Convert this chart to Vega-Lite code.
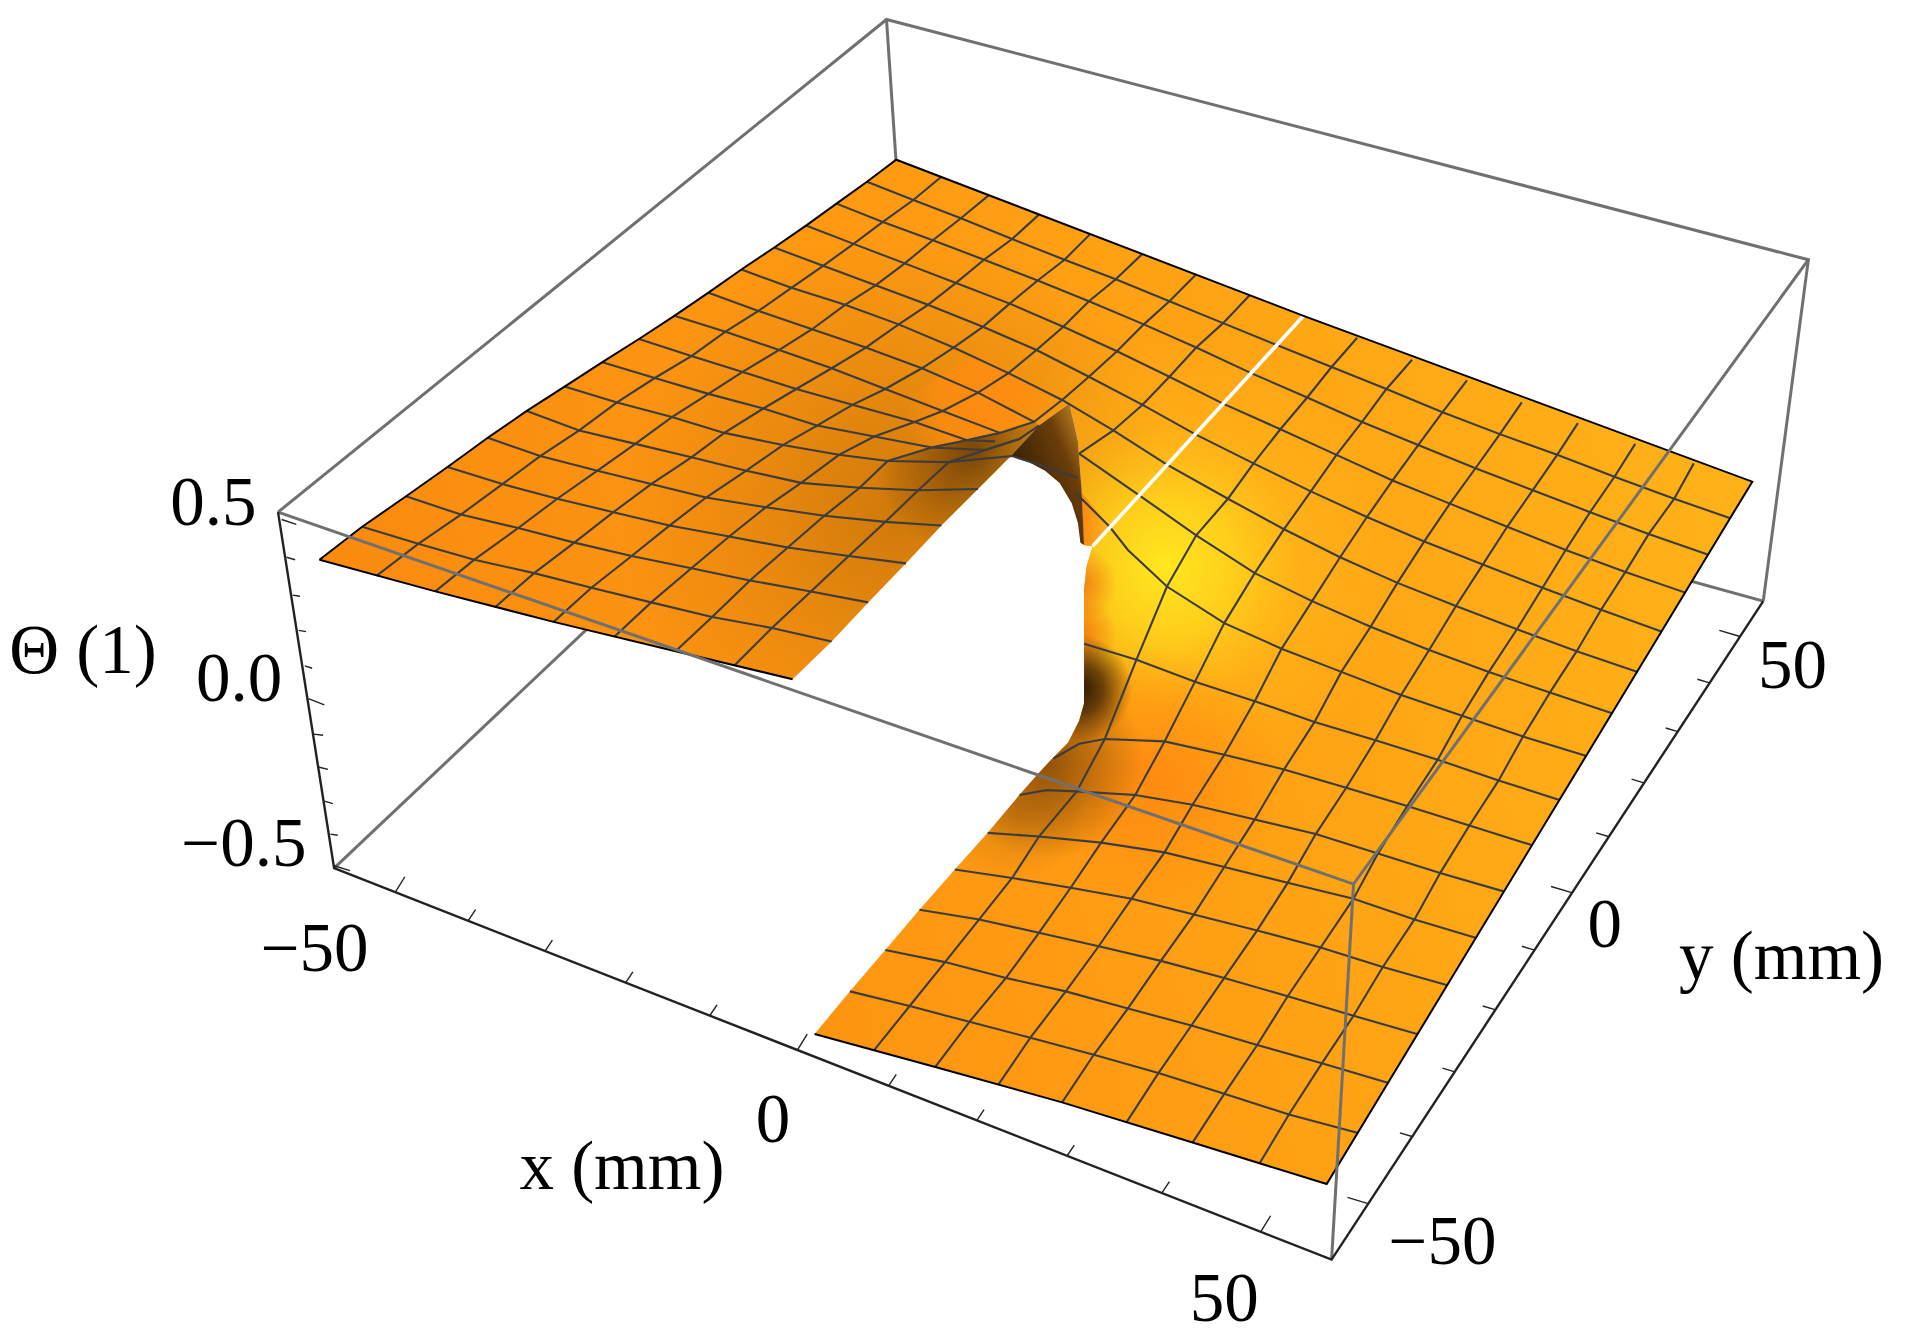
{
  "$schema": "https://vega.github.io/schema/vega-lite/v6.json",
  "width": 1912,
  "height": 1338,
  "padding": 0,
  "autosize": {"type": "none"},
  "background": "white",
  "projection": {"type": "identity", "scale": 1.2194, "translate": [0, 0]},
  "datasets": {
    "surface": [
      {"type": "Feature", "properties": {"part": "surface"}, "geometry": {"type": "Polygon", "coordinates": [[[735,131],[1069,259],[1437,395],[1088,971],[978,937],[924,920],[871,904],[819,889],[767,875],[717,861],[668,848],[697,813],[726,779],[754,746],[783,713],[810,683],[836,652],[851,635],[862,623],[876,609],[885,591],[889,577],[889,543],[889,484],[891,465],[896,448],[889,447],[887,402],[884,362],[877,331],[852,349],[829,374],[802,401],[772,431],[743,462],[712,494],[682,526],[650,557],[602,546],[554,534],[504,522],[454,510],[406,498],[357,485],[309,472],[262,459],[297,432],[333,407],[367,383],[400,359],[432,337],[463,317],[494,297],[524,278],[553,259],[581,240],[608,221],[635,203],[661,185],[686,167],[711,149],[735,131]]]}}
    ],
    "lipShade": [
      {"type": "Feature", "properties": {"part": "lipShade"}, "geometry": {"type": "Polygon", "coordinates": [[[852,349],[848,345],[820,354],[793,360],[764,366],[728,378],[690,400],[655,440],[640,545],[650,557],[682,526],[712,494],[743,462],[772,431],[802,401],[829,374],[852,349]]]}}
    ],
    "lipTop": [
      {"type": "Feature", "properties": {"part": "lip"}, "geometry": {"type": "Polygon", "coordinates": [[[877,331],[871,327],[800,290],[730,335],[728,376],[764,366],[793,360],[820,354],[848,345],[877,331]]]}}
    ],
    "wall": [
      {"type": "Feature", "properties": {"part": "wall"}, "geometry": {"type": "Polygon", "coordinates": [[[877,331],[852,349],[829,374],[844,379],[857,386],[869,396],[879,413],[884,429],[886,445],[889,447],[887,402],[884,362],[877,331]]]}}
    ],
    "sliver": [
      {"type": "Feature", "properties": {"part": "sliver"}, "geometry": {"type": "Polygon", "coordinates": [[[887,404],[910,432],[896,448],[889,447],[887,404]]]}}
    ],
    "mesh": [
      {"type": "Feature", "properties": {"line": "y15"}, "geometry": {"type": "LineString", "coordinates": [[711,149],[749,164],[788,179],[830,196],[873,213],[915,229],[959,247],[1003,265],[1047,283],[1092,301],[1137,319],[1183,338],[1230,356],[1277,373],[1324,391],[1373,409],[1419,425]]}},
      {"type": "Feature", "properties": {"line": "y14"}, "geometry": {"type": "LineString", "coordinates": [[686,167],[724,182],[765,197],[807,213],[851,230],[893,247],[938,266],[981,285],[1026,306],[1072,326],[1117,346],[1163,365],[1210,384],[1257,402],[1304,420],[1352,438],[1401,455]]}},
      {"type": "Feature", "properties": {"line": "y13"}, "geometry": {"type": "LineString", "coordinates": [[661,185],[700,200],[742,216],[784,232],[828,249],[872,268],[916,288],[959,309],[1003,331],[1050,352],[1096,373],[1142,394],[1189,413],[1236,432],[1284,451],[1333,469],[1382,486]]}},
      {"type": "Feature", "properties": {"line": "y12"}, "geometry": {"type": "LineString", "coordinates": [[635,203],[675,218],[718,234],[761,250],[806,268],[850,287],[893,309],[937,332],[980,356],[1028,380],[1075,403],[1121,424],[1168,444],[1216,463],[1265,482],[1313,500],[1363,518]]}},
      {"type": "Feature", "properties": {"line": "y11"}, "geometry": {"type": "LineString", "coordinates": [[608,221],[649,236],[693,250],[737,266],[782,285],[827,306],[871,328],[913,353],[957,381],[1007,409],[1053,434],[1099,457],[1146,478],[1194,497],[1244,516],[1293,534],[1343,551]]}},
      {"type": "Feature", "properties": {"line": "y10a"}, "geometry": {"type": "LineString", "coordinates": [[581,240],[622,255],[666,270],[710,285],[756,302],[802,322],[848,346]]}},
      {"type": "Feature", "properties": {"line": "y10b"}, "geometry": {"type": "LineString", "coordinates": [[885,372],[934,406],[981,439],[1029,470],[1076,493],[1124,514],[1172,533],[1221,551],[1271,568],[1322,585]]}},
      {"type": "Feature", "properties": {"line": "y9a"}, "geometry": {"type": "LineString", "coordinates": [[553,259],[595,272],[639,287],[682,302],[726,319],[773,337],[820,355]]}},
      {"type": "Feature", "properties": {"line": "y9b"}, "geometry": {"type": "LineString", "coordinates": [[882,404],[910,432],[925,451],[957,481],[1004,511],[1051,532],[1100,551],[1149,570],[1199,587],[1249,604],[1301,620]]}},
      {"type": "Feature", "properties": {"line": "y8a"}, "geometry": {"type": "LineString", "coordinates": [[524,278],[567,292],[609,305],[653,319],[699,332],[750,346],[793,361],[816,362]]}},
      {"type": "Feature", "properties": {"line": "y8b"}, "geometry": {"type": "LineString", "coordinates": [[889,528],[932,541],[980,559],[1029,575],[1078,592],[1128,607],[1179,623],[1229,640],[1279,656]]}},
      {"type": "Feature", "properties": {"line": "y7a"}, "geometry": {"type": "LineString", "coordinates": [[494,297],[537,310],[581,323],[626,335],[670,349],[717,358],[764,367],[808,369],[836,360]]}},
      {"type": "Feature", "properties": {"line": "y7b"}, "geometry": {"type": "LineString", "coordinates": [[864,622],[885,610],[906,606],[955,608],[1004,619],[1053,631],[1104,646],[1154,661],[1205,677],[1256,693]]}},
      {"type": "Feature", "properties": {"line": "y6a"}, "geometry": {"type": "LineString", "coordinates": [[463,317],[506,330],[551,342],[594,355],[642,365],[688,373],[728,378],[778,379],[830,374],[855,382],[884,392]]}},
      {"type": "Feature", "properties": {"line": "y6b"}, "geometry": {"type": "LineString", "coordinates": [[836,652],[858,648],[883,649],[931,652],[978,660],[1029,672],[1079,684],[1130,700],[1181,716],[1233,731]]}},
      {"type": "Feature", "properties": {"line": "y5a"}, "geometry": {"type": "LineString", "coordinates": [[432,337],[475,353],[521,364],[567,375],[612,386],[657,396],[705,400],[753,402],[802,401]]}},
      {"type": "Feature", "properties": {"line": "y5b"}, "geometry": {"type": "LineString", "coordinates": [[810,683],[852,686],[903,691],[955,699],[1004,711],[1056,724],[1110,737],[1160,754],[1210,769]]}},
      {"type": "Feature", "properties": {"line": "y4a"}, "geometry": {"type": "LineString", "coordinates": [[400,359],[443,374],[490,386],[534,397],[579,408],[628,416],[676,423],[726,428],[772,431]]}},
      {"type": "Feature", "properties": {"line": "y4b"}, "geometry": {"type": "LineString", "coordinates": [[783,713],[830,720],[878,728],[928,737],[979,750],[1031,763],[1083,777],[1134,793],[1187,808]]}},
      {"type": "Feature", "properties": {"line": "y3a"}, "geometry": {"type": "LineString", "coordinates": [[367,383],[412,397],[457,409],[503,420],[549,431],[598,440],[646,449],[696,456],[743,462]]}},
      {"type": "Feature", "properties": {"line": "y3b"}, "geometry": {"type": "LineString", "coordinates": [[754,746],[803,754],[852,765],[901,776],[952,788],[1004,802],[1056,817],[1110,833],[1162,848]]}},
      {"type": "Feature", "properties": {"line": "y2a"}, "geometry": {"type": "LineString", "coordinates": [[333,407],[378,422],[425,433],[471,445],[518,456],[567,466],[615,476],[665,485],[712,494]]}},
      {"type": "Feature", "properties": {"line": "y2b"}, "geometry": {"type": "LineString", "coordinates": [[726,779],[775,789],[825,802],[874,813],[925,827],[977,841],[1031,857],[1084,872],[1138,888]]}},
      {"type": "Feature", "properties": {"line": "y1a"}, "geometry": {"type": "LineString", "coordinates": [[297,432],[343,446],[389,459],[438,470],[485,482],[534,494],[584,506],[633,515],[682,526]]}},
      {"type": "Feature", "properties": {"line": "y1b"}, "geometry": {"type": "LineString", "coordinates": [[697,813],[746,825],[795,838],[845,851],[897,865],[950,880],[1004,897],[1057,914],[1113,929]]}},
      {"type": "Feature", "properties": {"line": "x1"}, "geometry": {"type": "LineString", "coordinates": [[772,145],[749,164],[724,182],[700,200],[675,218],[649,236],[622,255],[595,272],[567,292],[537,310],[506,330],[475,353],[443,374],[412,397],[378,422],[343,446],[309,472]]}},
      {"type": "Feature", "properties": {"line": "x2"}, "geometry": {"type": "LineString", "coordinates": [[811,160],[788,179],[765,197],[742,216],[718,234],[693,250],[666,270],[639,287],[609,305],[581,323],[551,342],[521,364],[490,386],[457,409],[425,433],[389,459],[357,485]]}},
      {"type": "Feature", "properties": {"line": "x3"}, "geometry": {"type": "LineString", "coordinates": [[852,176],[830,196],[807,213],[784,232],[761,250],[737,266],[710,285],[682,302],[653,319],[626,335],[594,355],[567,375],[534,397],[503,420],[471,445],[438,470],[406,498]]}},
      {"type": "Feature", "properties": {"line": "x4"}, "geometry": {"type": "LineString", "coordinates": [[894,192],[873,213],[851,230],[828,249],[806,268],[782,285],[756,302],[726,319],[699,332],[670,349],[642,365],[612,386],[579,408],[549,431],[518,456],[485,482],[454,510]]}},
      {"type": "Feature", "properties": {"line": "x5"}, "geometry": {"type": "LineString", "coordinates": [[937,208],[915,229],[893,247],[872,268],[850,287],[827,306],[802,322],[773,337],[750,346],[717,358],[688,373],[657,396],[628,416],[598,440],[567,466],[534,494],[504,522]]}},
      {"type": "Feature", "properties": {"line": "x6"}, "geometry": {"type": "LineString", "coordinates": [[981,225],[959,247],[938,266],[916,288],[893,309],[871,328],[848,346],[820,355],[793,361],[764,367],[728,378],[705,400],[676,423],[646,449],[615,476],[584,506],[554,534]]}},
      {"type": "Feature", "properties": {"line": "x7a"}, "geometry": {"type": "LineString", "coordinates": [[1025,242],[1003,265],[981,285],[959,309],[937,332],[913,353],[885,372]]}},
      {"type": "Feature", "properties": {"line": "x7b"}, "geometry": {"type": "LineString", "coordinates": [[602,546],[633,515],[665,485],[696,456],[726,428],[753,402],[778,379],[808,369],[836,360],[852,349]]}},
      {"type": "Feature", "properties": {"line": "x9"}, "geometry": {"type": "LineString", "coordinates": [[1113,277],[1092,301],[1072,326],[1050,352],[1028,380],[1007,409],[981,439],[957,481],[932,541],[906,606],[883,649],[852,686],[830,720],[803,754],[775,789],[746,825],[717,861]]}},
      {"type": "Feature", "properties": {"line": "x10"}, "geometry": {"type": "LineString", "coordinates": [[1158,295],[1137,319],[1117,346],[1096,373],[1075,403],[1053,434],[1029,470],[1004,511],[980,559],[955,608],[931,652],[903,691],[878,728],[852,765],[825,802],[795,838],[767,875]]}},
      {"type": "Feature", "properties": {"line": "x11"}, "geometry": {"type": "LineString", "coordinates": [[1203,312],[1183,338],[1163,365],[1142,394],[1121,424],[1099,457],[1076,493],[1051,532],[1029,575],[1004,619],[978,660],[955,699],[928,737],[901,776],[874,813],[845,851],[819,889]]}},
      {"type": "Feature", "properties": {"line": "x12"}, "geometry": {"type": "LineString", "coordinates": [[1248,330],[1230,356],[1210,384],[1189,413],[1168,444],[1146,478],[1124,514],[1100,551],[1078,592],[1053,631],[1029,672],[1004,711],[979,750],[952,788],[925,827],[897,865],[871,904]]}},
      {"type": "Feature", "properties": {"line": "x13"}, "geometry": {"type": "LineString", "coordinates": [[1294,347],[1277,373],[1257,402],[1236,432],[1216,463],[1194,497],[1172,533],[1149,570],[1128,607],[1104,646],[1079,684],[1056,724],[1031,763],[1004,802],[977,841],[950,880],[924,920]]}},
      {"type": "Feature", "properties": {"line": "x14"}, "geometry": {"type": "LineString", "coordinates": [[1341,364],[1324,391],[1304,420],[1284,451],[1265,482],[1244,516],[1221,551],[1199,587],[1179,623],[1154,661],[1130,700],[1110,737],[1083,777],[1056,817],[1031,857],[1004,897],[978,937]]}},
      {"type": "Feature", "properties": {"line": "x15"}, "geometry": {"type": "LineString", "coordinates": [[1389,380],[1373,409],[1352,438],[1333,469],[1313,500],[1293,534],[1271,568],[1249,604],[1229,640],[1205,677],[1181,716],[1160,754],[1134,793],[1110,833],[1084,872],[1057,914],[1033,954]]}}
    ],
    "zeroLine": [
      {"type": "Feature", "properties": {"line": "x8"}, "geometry": {"type": "LineString", "coordinates": [[1069,259],[896,448]]}}
    ],
    "surfaceEdge": [
      {"type": "Feature", "properties": {"edge": "back"}, "geometry": {"type": "LineString", "coordinates": [[262,459],[297,432],[333,407],[367,383],[400,359],[432,337],[463,317],[494,297],[524,278],[553,259],[581,240],[608,221],[635,203],[661,185],[686,167],[711,149],[735,131],[1069,259],[1437,395],[1088,971],[978,937],[871,904],[767,875],[668,848]]}},
      {"type": "Feature", "properties": {"edge": "front"}, "geometry": {"type": "LineString", "coordinates": [[262,459],[357,485],[454,510],[554,534],[650,557]]}}
    ],
    "boxBehind": [
      {"type": "Feature", "properties": {"edge": "a"}, "geometry": {"type": "LineString", "coordinates": [[727,16],[735,135]]}},
      {"type": "Feature", "properties": {"edge": "b"}, "geometry": {"type": "LineString", "coordinates": [[274,712],[495,503]]}},
      {"type": "Feature", "properties": {"edge": "c"}, "geometry": {"type": "LineString", "coordinates": [[1446,493],[1370,472]]}}
    ],
    "boxOver": [
      {"type": "Feature", "properties": {"edge": "d"}, "geometry": {"type": "LineString", "coordinates": [[228,420],[727,16],[1483,213],[1446,493]]}},
      {"type": "Feature", "properties": {"edge": "e"}, "geometry": {"type": "LineString", "coordinates": [[228,420],[1110,725],[1483,213]]}},
      {"type": "Feature", "properties": {"edge": "f"}, "geometry": {"type": "LineString", "coordinates": [[1110,725],[1092,1033]]}}
    ],
    "axes": [
      {"type": "Feature", "properties": {"axis": "theta-x-y"}, "geometry": {"type": "LineString", "coordinates": [[228,420],[274,712],[1092,1033],[1446,493]]}}
    ],
    "ticks": [
      {"type": "Feature", "properties": {"axis": "x"}, "geometry": {"type": "MultiLineString", "coordinates": [[[324,732],[332,719]],[[384,755],[390,746]],[[447,780],[453,771]],[[513,806],[519,797]],[[582,833],[588,824]],[[654,861],[662,848]],[[729,890],[735,881]],[[801,919],[807,910]],[[875,948],[881,939]],[[953,978],[959,969]],[[1034,1010],[1042,997]]]}},
      {"type": "Feature", "properties": {"axis": "y"}, "geometry": {"type": "MultiLineString", "coordinates": [[[1122,987],[1105,982]],[[1158,932],[1148,929]],[[1193,879],[1183,876]],[[1226,828],[1216,825]],[[1258,779],[1248,776]],[[1289,732],[1272,727]],[[1319,686],[1309,683]],[[1348,642],[1338,639]],[[1376,600],[1366,597]],[[1402,560],[1392,557]],[[1427,522],[1410,517]]]}},
      {"type": "Feature", "properties": {"axis": "theta"}, "geometry": {"type": "MultiLineString", "coordinates": [[[231,426],[243,430]],[[235,457],[242,459]],[[240,488],[246,489]],[[245,517],[251,518]],[[250,546],[256,548]],[[253,573],[266,578]],[[257,602],[265,603]],[[261,629],[269,631]],[[266,657],[273,659]],[[271,684],[277,685]],[[274,710],[287,714]]]}}
    ],
    "labels": [
      {"label": "0.5", "lon": 175, "lat": 413},
      {"label": "0.0", "lon": 196, "lat": 558},
      {"label": "−0.5", "lon": 200, "lat": 693},
      {"label": "Θ (1)", "lon": 68, "lat": 535},
      {"label": "−50", "lon": 258, "lat": 779},
      {"label": "0", "lon": 634, "lat": 919},
      {"label": "50", "lon": 1004, "lat": 1066},
      {"label": "x (mm)", "lon": 510, "lat": 958},
      {"label": "−50", "lon": 1183, "lat": 1019},
      {"label": "0", "lon": 1316, "lat": 759},
      {"label": "50", "lon": 1470, "lat": 547},
      {"label": "y (mm)", "lon": 1461, "lat": 786}
    ]
  },
  "layer": [
    {"data": {"name": "boxBehind"}, "mark": {"type": "geoshape", "filled": false, "stroke": "#707070", "strokeWidth": 3}},
    {"data": {"name": "surface"}, "mark": {"type": "geoshape", "stroke": null, "fill": {"gradient": "linear", "x1": 0, "y1": 0.55, "x2": 1, "y2": 0.4, "stops": [{"offset": 0, "color": "#f98a0f"}, {"offset": 0.45, "color": "#ff9a12"}, {"offset": 1, "color": "#ffb218"}]}}},
    {"data": {"name": "surface"}, "mark": {"type": "geoshape", "stroke": null, "fill": {"gradient": "radial", "x1": 0.4068, "y1": 0.388, "r1": 0, "x2": 0.4068, "y2": 0.388, "r2": 0.196, "stops": [{"offset": 0, "color": "rgba(140,75,0,0.42)"}, {"offset": 0.5, "color": "rgba(140,75,0,0.18)"}, {"offset": 1, "color": "rgba(140,75,0,0)"}]}}},
    {"data": {"name": "lipShade"}, "mark": {"type": "geoshape", "stroke": null, "fill": {"gradient": "radial", "x1": 0.755, "y1": 0.127, "r1": 0, "x2": 0.755, "y2": 0.127, "r2": 0.4, "stops": [{"offset": 0, "color": "rgba(90,50,5,0.8)"}, {"offset": 0.5, "color": "rgba(90,50,5,0.4)"}, {"offset": 1, "color": "rgba(90,50,5,0)"}]}}},
    {"data": {"name": "lipTop"}, "mark": {"type": "geoshape", "stroke": null, "fill": {"gradient": "radial", "x1": 0.55, "y1": 0.48, "r1": 0, "x2": 0.55, "y2": 0.48, "r2": 0.47, "stops": [{"offset": 0, "color": "rgba(255,140,16,0.95)"}, {"offset": 0.6, "color": "rgba(255,140,16,0.7)"}, {"offset": 1, "color": "rgba(255,140,16,0)"}]}}},
    {"data": {"name": "surface"}, "mark": {"type": "geoshape", "stroke": null, "fill": {"gradient": "radial", "x1": 0.5898, "y1": 0.4264, "r1": 0, "x2": 0.5898, "y2": 0.4264, "r2": 0.1617, "stops": [{"offset": 0, "color": "rgba(255,232,32,1)"}, {"offset": 0.3, "color": "rgba(255,225,30,0.7)"}, {"offset": 0.6, "color": "rgba(255,210,28,0.25)"}, {"offset": 1, "color": "rgba(255,200,25,0)"}]}}},
    {"data": {"name": "surface"}, "mark": {"type": "geoshape", "stroke": null, "fill": {"gradient": "radial", "x1": 0.5294, "y1": 0.4391, "r1": 0, "x2": 0.5294, "y2": 0.4391, "r2": 0.0272, "stops": [{"offset": 0, "color": "rgba(240,120,15,0.95)"}, {"offset": 1, "color": "rgba(240,120,15,0)"}]}}},
    {"data": {"name": "surface"}, "mark": {"type": "geoshape", "stroke": null, "fill": {"gradient": "radial", "x1": 0.5294, "y1": 0.4732, "r1": 0, "x2": 0.5294, "y2": 0.4732, "r2": 0.0272, "stops": [{"offset": 0, "color": "rgba(240,120,15,0.95)"}, {"offset": 1, "color": "rgba(240,120,15,0)"}]}}},
    {"data": {"name": "surface"}, "mark": {"type": "geoshape", "stroke": null, "fill": {"gradient": "radial", "x1": 0.5813, "y1": 0.5753, "r1": 0, "x2": 0.5813, "y2": 0.5753, "r2": 0.0936, "stops": [{"offset": 0, "color": "rgba(255,135,15,0.85)"}, {"offset": 1, "color": "rgba(255,135,15,0)"}]}}},
    {"data": {"name": "surface"}, "mark": {"type": "geoshape", "stroke": null, "fill": {"gradient": "radial", "x1": 0.4834, "y1": 0.597, "r1": 0, "x2": 0.4834, "y2": 0.597, "r2": 0.051, "stops": [{"offset": 0, "color": "rgba(160,90,10,0.35)"}, {"offset": 1, "color": "rgba(160,90,10,0)"}]}}},
    {"data": {"name": "surface"}, "mark": {"type": "geoshape", "stroke": null, "fill": {"gradient": "radial", "x1": 0.5072, "y1": 0.563, "r1": 0, "x2": 0.5072, "y2": 0.563, "r2": 0.068, "stops": [{"offset": 0, "color": "rgba(125,68,8,0.85)"}, {"offset": 0.5, "color": "rgba(125,68,8,0.45)"}, {"offset": 1, "color": "rgba(125,68,8,0)"}]}}},
    {"data": {"name": "surface"}, "mark": {"type": "geoshape", "stroke": null, "fill": {"gradient": "radial", "x1": 0.5302, "y1": 0.5115, "r1": 0, "x2": 0.5302, "y2": 0.5115, "r2": 0.0374, "stops": [{"offset": 0, "color": "rgba(40,22,2,1)"}, {"offset": 0.45, "color": "rgba(60,32,4,0.75)"}, {"offset": 1, "color": "rgba(60,32,4,0)"}]}}},
    {"data": {"name": "sliver"}, "mark": {"type": "geoshape", "stroke": null, "fill": {"gradient": "linear", "x1": 0, "y1": 0.5, "x2": 1, "y2": 0.5, "stops": [{"offset": 0, "color": "#f58a10"}, {"offset": 1, "color": "#ffb61c"}]}}},
    {"data": {"name": "wall"}, "mark": {"type": "geoshape", "stroke": null, "fill": {"gradient": "linear", "x1": 0.95, "y1": 0.15, "x2": 0.3, "y2": 0.7, "stops": [{"offset": 0, "color": "#b87a20"}, {"offset": 0.35, "color": "#6b3e0a"}, {"offset": 1, "color": "#3a2206"}]}}},
    {"data": {"name": "mesh"}, "mark": {"type": "geoshape", "filled": false, "stroke": "#3c3c3c", "strokeWidth": 2.1}},
    {"data": {"name": "zeroLine"}, "mark": {"type": "geoshape", "filled": false, "stroke": "#ffffff", "strokeWidth": 3.6}},
    {"data": {"name": "surfaceEdge"}, "mark": {"type": "geoshape", "filled": false, "stroke": "#000000", "strokeWidth": 2}},
    {"data": {"name": "boxOver"}, "mark": {"type": "geoshape", "filled": false, "stroke": "#707070", "strokeWidth": 3}},
    {"data": {"name": "axes"}, "mark": {"type": "geoshape", "filled": false, "stroke": "#222222", "strokeWidth": 2.4}},
    {"data": {"name": "ticks"}, "mark": {"type": "geoshape", "filled": false, "stroke": "#222222", "strokeWidth": 1.4}},
    {
      "data": {"name": "labels"},
      "mark": {"type": "text", "font": "Liberation Serif", "fontSize": 69, "align": "center", "baseline": "middle", "color": "#000000"},
      "encoding": {
        "longitude": {"field": "lon", "type": "quantitative"},
        "latitude": {"field": "lat", "type": "quantitative"},
        "text": {"field": "label", "type": "nominal"}
      }
    }
  ],
  "config": {"view": {"stroke": null}}
}
